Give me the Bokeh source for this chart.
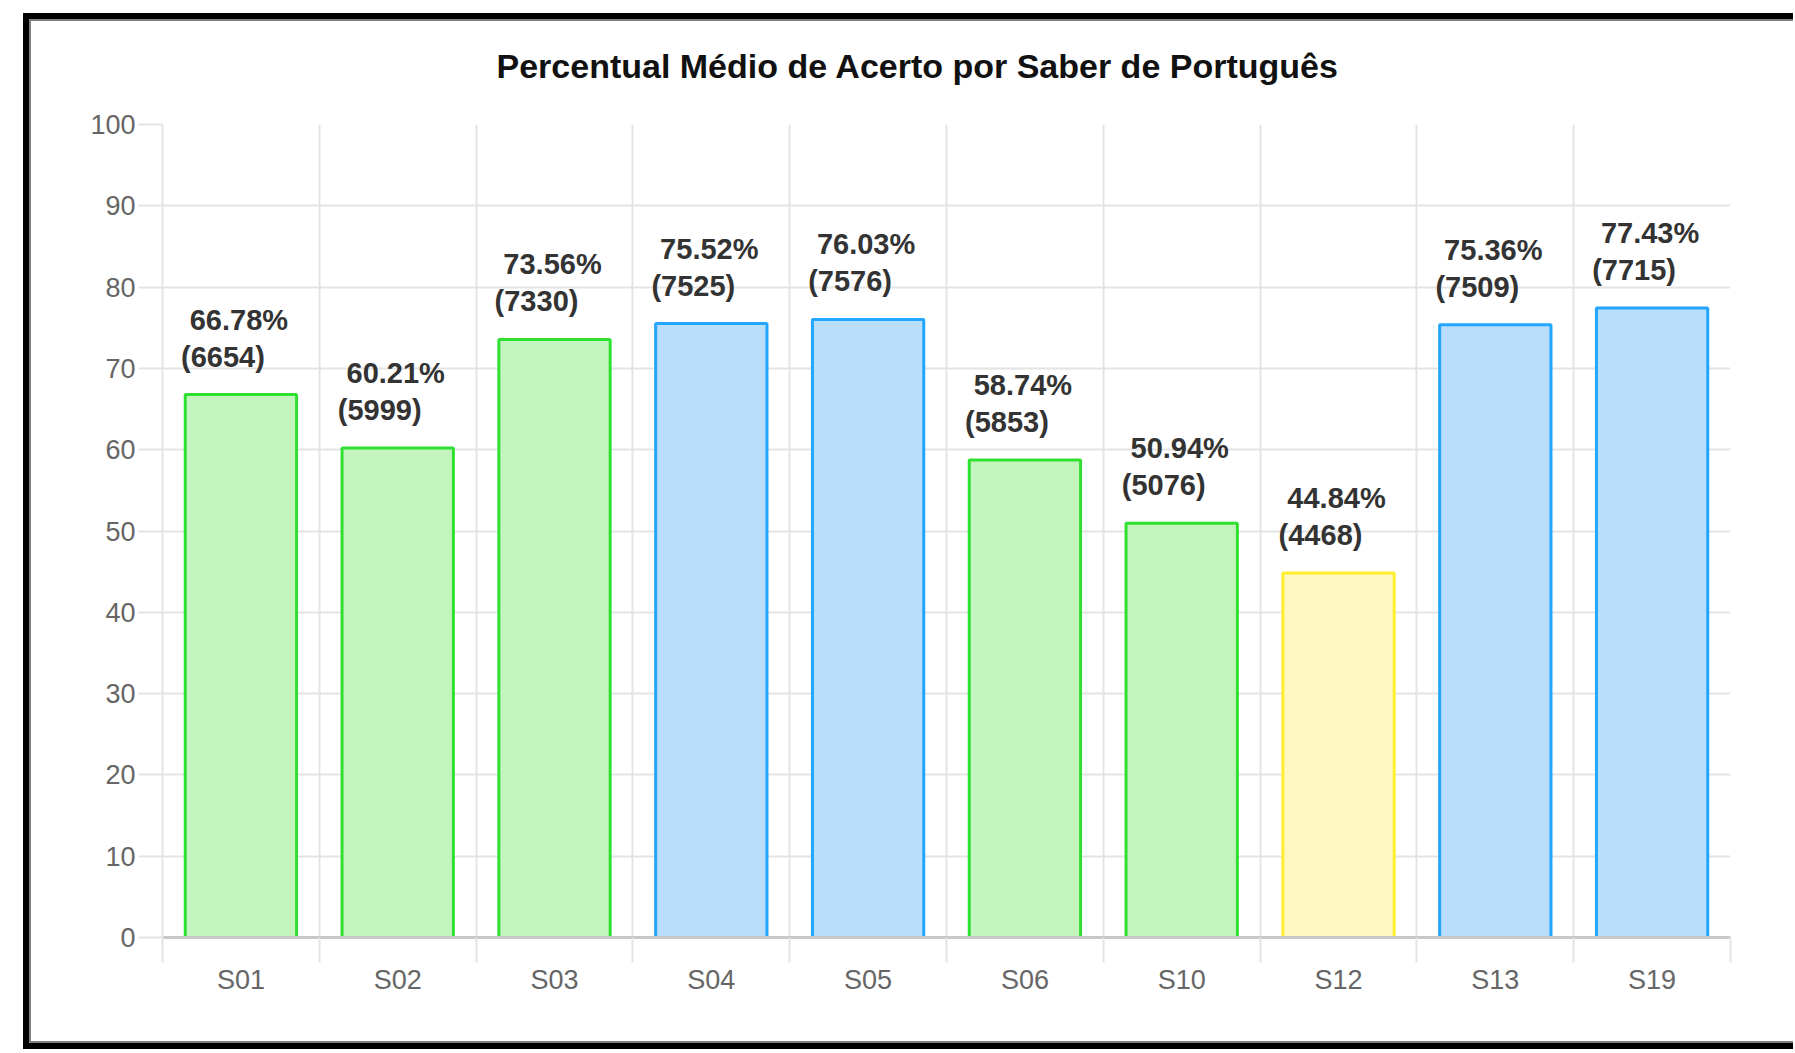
from bokeh.plotting import figure
from bokeh.models import FixedTicker, ColumnDataSource, Title
from bokeh.layouts import column
from bokeh.embed import file_html
from bokeh.resources import INLINE
from bokeh.core.properties import value

# ---- data ----
categories = ["S01", "S02", "S03", "S04", "S05", "S06", "S10", "S12", "S13", "S19"]
percentages = [66.78, 60.21, 73.56, 75.52, 76.03, 58.74, 50.94, 44.84, 75.36, 77.43]
counts = [6654, 5999, 7330, 7525, 7576, 5853, 5076, 4468, 7509, 7715]
levels = ["mid", "mid", "mid", "high", "high", "mid", "mid", "low", "high", "high"]
y_ticks = [0, 10, 20, 30, 40, 50, 60, 70, 80, 90, 100]
title_text = "Percentual Médio de Acerto por Saber de Português"

fill_map = {"mid": "#c4f5bf", "high": "#b8defb", "low": "#fff8c0"}
line_map = {"mid": "#30e030", "high": "#22a6ff", "low": "#ffee2e"}

FONT = "Liberation Sans"

centers = [i + 0.5 for i in range(len(categories))]
src = ColumnDataSource(dict(
    x=centers,
    top=percentages,
    fill=[fill_map[l] for l in levels],
    line=[line_map[l] for l in levels],
    lab1=[f"{v:.2f}%" for v in percentages],
    lab2=[f"({n})" for n in counts],
))

p = figure(width=1764, height=1024, x_range=(0, len(categories)), y_range=(0, 100),
           output_backend="svg", toolbar_location=None,
           min_border_left=131, min_border_right=65, min_border_top=103, min_border_bottom=108)
p.outline_line_color = None
p.background_fill_color = "white"
p.border_fill_color = "white"
p.title = None

# spacer between title and plot area, then the title itself
p.add_layout(Title(text=" ", text_font_size="1px", standoff=37), "above")
p.add_layout(Title(text=title_text, text_font=FONT, text_font_size="34px",
                   text_font_style="bold", text_color="#111111", align="left",
                   offset=334, standoff=0), "above")

p.vbar(x="x", top="top", width=0.71, bottom=0, source=src,
       fill_color="fill", line_color="line", line_width=3)

p.text(x="x", y="top", text="lab1", source=src, x_offset=-2, y_offset=-75,
       text_align="center", text_baseline="middle", text_font=value(FONT),
       text_font_size="29px", text_font_style="bold", text_color="#333333")
p.text(x="x", y="top", text="lab2", source=src, x_offset=-18, y_offset=-38,
       text_align="center", text_baseline="middle", text_font=value(FONT),
       text_font_size="29px", text_font_style="bold", text_color="#333333")

grid_col = "#e4e4e4"

# x axis
xt = FixedTicker(ticks=centers, minor_ticks=list(range(len(categories) + 1)))
p.xaxis.ticker = xt
p.xaxis.major_label_overrides = {c: cat for c, cat in zip(centers, categories)}
p.xaxis.major_tick_line_color = None
p.xaxis.major_tick_out = 0
p.xaxis.major_tick_in = 0
p.xaxis.minor_tick_out = 25
p.xaxis.minor_tick_in = 0
p.xaxis.minor_tick_line_color = grid_col
p.xaxis.minor_tick_line_width = 2
p.xaxis.axis_line_color = "#c8c8c8"
p.xaxis.axis_line_width = 3
p.xaxis.major_label_text_font = FONT
p.xaxis.major_label_text_font_size = "27px"
p.xaxis.major_label_text_color = "#666666"
p.xaxis.major_label_standoff = 2
p.xgrid.grid_line_color = None
p.xgrid.minor_grid_line_color = grid_col
p.xgrid.minor_grid_line_width = 2

# y axis
p.yaxis.ticker = FixedTicker(ticks=y_ticks, minor_ticks=[])
p.yaxis.major_tick_out = 24
p.yaxis.major_tick_in = 0
p.yaxis.major_tick_line_color = grid_col
p.yaxis.major_tick_line_width = 2
p.yaxis.minor_tick_line_color = None
p.yaxis.axis_line_color = grid_col
p.yaxis.axis_line_width = 2
p.yaxis.major_label_text_font = FONT
p.yaxis.major_label_text_font_size = "27px"
p.yaxis.major_label_text_color = "#666666"
p.yaxis.major_label_standoff = 3
p.ygrid.grid_line_color = grid_col
p.ygrid.grid_line_width = 2

p.styles = {"border-left": "2px solid #808080", "border-top": "2px solid #808080",
            "border-bottom": "2px solid #808080"}
layout = column(p, styles={"border-left": "6px solid #000000", "border-top": "6px solid #000000",
                           "border-bottom": "6px solid #000000", "margin-left": "23px",
                           "margin-top": "13px"})

open("out.html", "w").write(file_html(layout, INLINE))
